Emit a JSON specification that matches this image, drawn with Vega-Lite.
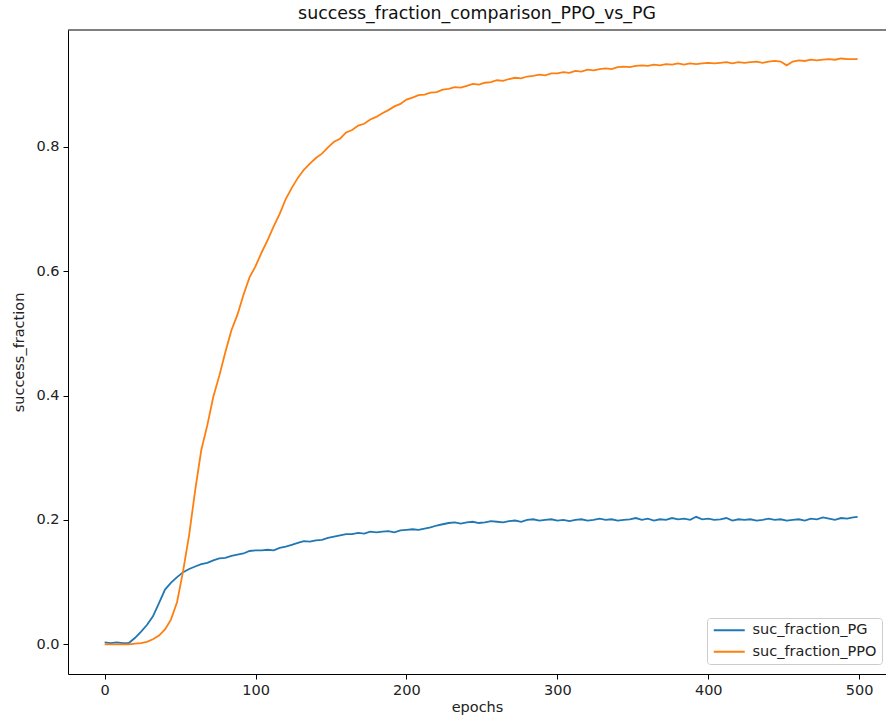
{
  "$schema": "https://vega.github.io/schema/vega-lite/v6.json",
  "width": 818,
  "height": 644,
  "autosize": {"type": "none"},
  "padding": {"left": 68, "top": 30, "right": 0, "bottom": 47},
  "background": "white",
  "title": {
    "text": "success_fraction_comparison_PPO_vs_PG",
    "font": "DejaVu Sans",
    "fontSize": 17.4,
    "fontWeight": "normal",
    "color": "#111",
    "anchor": "middle",
    "baseline": "alphabetic",
    "offset": 9,
    "dy": 16
  },
  "config": {
    "view": {"stroke": null},
    "axis": {
      "grid": false,
      "domainColor": "#000",
      "domainWidth": 1,
      "tickColor": "#000",
      "tickSize": 5,
      "tickWidth": 1,
      "labelFont": "DejaVu Sans",
      "labelFontSize": 14.5,
      "labelColor": "#222",
      "labelPadding": 4,
      "titleFont": "DejaVu Sans",
      "titleFontSize": 14.5,
      "titleFontWeight": "normal",
      "titleColor": "#222"
    }
  },
  "data": {
    "values": [
      {"epoch":0,"suc_fraction_PG":0.003,"suc_fraction_PPO":0.000},
      {"epoch":4,"suc_fraction_PG":0.002,"suc_fraction_PPO":0.000},
      {"epoch":8,"suc_fraction_PG":0.003,"suc_fraction_PPO":0.000},
      {"epoch":12,"suc_fraction_PG":0.002,"suc_fraction_PPO":0.000},
      {"epoch":16,"suc_fraction_PG":0.002,"suc_fraction_PPO":0.000},
      {"epoch":20,"suc_fraction_PG":0.010,"suc_fraction_PPO":0.001},
      {"epoch":24,"suc_fraction_PG":0.020,"suc_fraction_PPO":0.002},
      {"epoch":28,"suc_fraction_PG":0.031,"suc_fraction_PPO":0.004},
      {"epoch":32,"suc_fraction_PG":0.045,"suc_fraction_PPO":0.008},
      {"epoch":36,"suc_fraction_PG":0.066,"suc_fraction_PPO":0.014},
      {"epoch":40,"suc_fraction_PG":0.088,"suc_fraction_PPO":0.024},
      {"epoch":44,"suc_fraction_PG":0.099,"suc_fraction_PPO":0.040},
      {"epoch":48,"suc_fraction_PG":0.108,"suc_fraction_PPO":0.068},
      {"epoch":52,"suc_fraction_PG":0.116,"suc_fraction_PPO":0.118},
      {"epoch":56,"suc_fraction_PG":0.121,"suc_fraction_PPO":0.176},
      {"epoch":60,"suc_fraction_PG":0.125,"suc_fraction_PPO":0.248},
      {"epoch":64,"suc_fraction_PG":0.129,"suc_fraction_PPO":0.312},
      {"epoch":68,"suc_fraction_PG":0.131,"suc_fraction_PPO":0.352},
      {"epoch":72,"suc_fraction_PG":0.135,"suc_fraction_PPO":0.398},
      {"epoch":76,"suc_fraction_PG":0.138,"suc_fraction_PPO":0.432},
      {"epoch":80,"suc_fraction_PG":0.139,"suc_fraction_PPO":0.470},
      {"epoch":84,"suc_fraction_PG":0.142,"suc_fraction_PPO":0.505},
      {"epoch":88,"suc_fraction_PG":0.144,"suc_fraction_PPO":0.530},
      {"epoch":92,"suc_fraction_PG":0.146,"suc_fraction_PPO":0.562},
      {"epoch":96,"suc_fraction_PG":0.150,"suc_fraction_PPO":0.590},
      {"epoch":100,"suc_fraction_PG":0.151,"suc_fraction_PPO":0.608},
      {"epoch":104,"suc_fraction_PG":0.151,"suc_fraction_PPO":0.630},
      {"epoch":108,"suc_fraction_PG":0.152,"suc_fraction_PPO":0.650},
      {"epoch":112,"suc_fraction_PG":0.151,"suc_fraction_PPO":0.672},
      {"epoch":116,"suc_fraction_PG":0.155,"suc_fraction_PPO":0.692},
      {"epoch":120,"suc_fraction_PG":0.157,"suc_fraction_PPO":0.716},
      {"epoch":124,"suc_fraction_PG":0.160,"suc_fraction_PPO":0.734},
      {"epoch":128,"suc_fraction_PG":0.163,"suc_fraction_PPO":0.750},
      {"epoch":132,"suc_fraction_PG":0.166,"suc_fraction_PPO":0.763},
      {"epoch":136,"suc_fraction_PG":0.165,"suc_fraction_PPO":0.773},
      {"epoch":140,"suc_fraction_PG":0.167,"suc_fraction_PPO":0.782},
      {"epoch":144,"suc_fraction_PG":0.168,"suc_fraction_PPO":0.789},
      {"epoch":148,"suc_fraction_PG":0.171,"suc_fraction_PPO":0.799},
      {"epoch":152,"suc_fraction_PG":0.173,"suc_fraction_PPO":0.808},
      {"epoch":156,"suc_fraction_PG":0.175,"suc_fraction_PPO":0.813},
      {"epoch":160,"suc_fraction_PG":0.177,"suc_fraction_PPO":0.823},
      {"epoch":164,"suc_fraction_PG":0.177,"suc_fraction_PPO":0.827},
      {"epoch":168,"suc_fraction_PG":0.179,"suc_fraction_PPO":0.834},
      {"epoch":172,"suc_fraction_PG":0.178,"suc_fraction_PPO":0.837},
      {"epoch":176,"suc_fraction_PG":0.181,"suc_fraction_PPO":0.844},
      {"epoch":180,"suc_fraction_PG":0.180,"suc_fraction_PPO":0.848},
      {"epoch":184,"suc_fraction_PG":0.181,"suc_fraction_PPO":0.854},
      {"epoch":188,"suc_fraction_PG":0.182,"suc_fraction_PPO":0.859},
      {"epoch":192,"suc_fraction_PG":0.180,"suc_fraction_PPO":0.865},
      {"epoch":196,"suc_fraction_PG":0.183,"suc_fraction_PPO":0.869},
      {"epoch":200,"suc_fraction_PG":0.184,"suc_fraction_PPO":0.876},
      {"epoch":204,"suc_fraction_PG":0.185,"suc_fraction_PPO":0.879},
      {"epoch":208,"suc_fraction_PG":0.184,"suc_fraction_PPO":0.883},
      {"epoch":212,"suc_fraction_PG":0.186,"suc_fraction_PPO":0.884},
      {"epoch":216,"suc_fraction_PG":0.188,"suc_fraction_PPO":0.887},
      {"epoch":220,"suc_fraction_PG":0.191,"suc_fraction_PPO":0.888},
      {"epoch":224,"suc_fraction_PG":0.193,"suc_fraction_PPO":0.892},
      {"epoch":228,"suc_fraction_PG":0.195,"suc_fraction_PPO":0.893},
      {"epoch":232,"suc_fraction_PG":0.196,"suc_fraction_PPO":0.896},
      {"epoch":236,"suc_fraction_PG":0.194,"suc_fraction_PPO":0.895},
      {"epoch":240,"suc_fraction_PG":0.196,"suc_fraction_PPO":0.898},
      {"epoch":244,"suc_fraction_PG":0.197,"suc_fraction_PPO":0.901},
      {"epoch":248,"suc_fraction_PG":0.195,"suc_fraction_PPO":0.900},
      {"epoch":252,"suc_fraction_PG":0.196,"suc_fraction_PPO":0.903},
      {"epoch":256,"suc_fraction_PG":0.198,"suc_fraction_PPO":0.904},
      {"epoch":260,"suc_fraction_PG":0.197,"suc_fraction_PPO":0.907},
      {"epoch":264,"suc_fraction_PG":0.196,"suc_fraction_PPO":0.906},
      {"epoch":268,"suc_fraction_PG":0.198,"suc_fraction_PPO":0.909},
      {"epoch":272,"suc_fraction_PG":0.199,"suc_fraction_PPO":0.911},
      {"epoch":276,"suc_fraction_PG":0.197,"suc_fraction_PPO":0.910},
      {"epoch":280,"suc_fraction_PG":0.200,"suc_fraction_PPO":0.913},
      {"epoch":284,"suc_fraction_PG":0.201,"suc_fraction_PPO":0.914},
      {"epoch":288,"suc_fraction_PG":0.199,"suc_fraction_PPO":0.916},
      {"epoch":292,"suc_fraction_PG":0.200,"suc_fraction_PPO":0.915},
      {"epoch":296,"suc_fraction_PG":0.201,"suc_fraction_PPO":0.918},
      {"epoch":300,"suc_fraction_PG":0.199,"suc_fraction_PPO":0.918},
      {"epoch":304,"suc_fraction_PG":0.200,"suc_fraction_PPO":0.920},
      {"epoch":308,"suc_fraction_PG":0.198,"suc_fraction_PPO":0.919},
      {"epoch":312,"suc_fraction_PG":0.200,"suc_fraction_PPO":0.922},
      {"epoch":316,"suc_fraction_PG":0.201,"suc_fraction_PPO":0.921},
      {"epoch":320,"suc_fraction_PG":0.199,"suc_fraction_PPO":0.924},
      {"epoch":324,"suc_fraction_PG":0.200,"suc_fraction_PPO":0.923},
      {"epoch":328,"suc_fraction_PG":0.202,"suc_fraction_PPO":0.925},
      {"epoch":332,"suc_fraction_PG":0.200,"suc_fraction_PPO":0.926},
      {"epoch":336,"suc_fraction_PG":0.201,"suc_fraction_PPO":0.925},
      {"epoch":340,"suc_fraction_PG":0.199,"suc_fraction_PPO":0.928},
      {"epoch":344,"suc_fraction_PG":0.200,"suc_fraction_PPO":0.929},
      {"epoch":348,"suc_fraction_PG":0.201,"suc_fraction_PPO":0.928},
      {"epoch":352,"suc_fraction_PG":0.203,"suc_fraction_PPO":0.930},
      {"epoch":356,"suc_fraction_PG":0.200,"suc_fraction_PPO":0.931},
      {"epoch":360,"suc_fraction_PG":0.202,"suc_fraction_PPO":0.930},
      {"epoch":364,"suc_fraction_PG":0.199,"suc_fraction_PPO":0.932},
      {"epoch":368,"suc_fraction_PG":0.201,"suc_fraction_PPO":0.931},
      {"epoch":372,"suc_fraction_PG":0.200,"suc_fraction_PPO":0.933},
      {"epoch":376,"suc_fraction_PG":0.203,"suc_fraction_PPO":0.932},
      {"epoch":380,"suc_fraction_PG":0.201,"suc_fraction_PPO":0.934},
      {"epoch":384,"suc_fraction_PG":0.202,"suc_fraction_PPO":0.932},
      {"epoch":388,"suc_fraction_PG":0.200,"suc_fraction_PPO":0.934},
      {"epoch":392,"suc_fraction_PG":0.205,"suc_fraction_PPO":0.933},
      {"epoch":396,"suc_fraction_PG":0.201,"suc_fraction_PPO":0.934},
      {"epoch":400,"suc_fraction_PG":0.202,"suc_fraction_PPO":0.935},
      {"epoch":404,"suc_fraction_PG":0.200,"suc_fraction_PPO":0.934},
      {"epoch":408,"suc_fraction_PG":0.201,"suc_fraction_PPO":0.935},
      {"epoch":412,"suc_fraction_PG":0.203,"suc_fraction_PPO":0.936},
      {"epoch":416,"suc_fraction_PG":0.199,"suc_fraction_PPO":0.934},
      {"epoch":420,"suc_fraction_PG":0.201,"suc_fraction_PPO":0.936},
      {"epoch":424,"suc_fraction_PG":0.200,"suc_fraction_PPO":0.935},
      {"epoch":428,"suc_fraction_PG":0.201,"suc_fraction_PPO":0.936},
      {"epoch":432,"suc_fraction_PG":0.199,"suc_fraction_PPO":0.937},
      {"epoch":436,"suc_fraction_PG":0.200,"suc_fraction_PPO":0.935},
      {"epoch":440,"suc_fraction_PG":0.202,"suc_fraction_PPO":0.937},
      {"epoch":444,"suc_fraction_PG":0.200,"suc_fraction_PPO":0.938},
      {"epoch":448,"suc_fraction_PG":0.201,"suc_fraction_PPO":0.937},
      {"epoch":452,"suc_fraction_PG":0.199,"suc_fraction_PPO":0.931},
      {"epoch":456,"suc_fraction_PG":0.200,"suc_fraction_PPO":0.937},
      {"epoch":460,"suc_fraction_PG":0.201,"suc_fraction_PPO":0.939},
      {"epoch":464,"suc_fraction_PG":0.199,"suc_fraction_PPO":0.938},
      {"epoch":468,"suc_fraction_PG":0.202,"suc_fraction_PPO":0.940},
      {"epoch":472,"suc_fraction_PG":0.201,"suc_fraction_PPO":0.939},
      {"epoch":476,"suc_fraction_PG":0.204,"suc_fraction_PPO":0.940},
      {"epoch":480,"suc_fraction_PG":0.202,"suc_fraction_PPO":0.941},
      {"epoch":484,"suc_fraction_PG":0.200,"suc_fraction_PPO":0.940},
      {"epoch":488,"suc_fraction_PG":0.203,"suc_fraction_PPO":0.942},
      {"epoch":492,"suc_fraction_PG":0.202,"suc_fraction_PPO":0.941},
      {"epoch":496,"suc_fraction_PG":0.204,"suc_fraction_PPO":0.941},
      {"epoch":499,"suc_fraction_PG":0.205,"suc_fraction_PPO":0.941}
    ]
  },
  "layer": [
    {
      "transform": [{"fold": ["suc_fraction_PG", "suc_fraction_PPO"], "as": ["series", "value"]}],
      "mark": {"type": "line", "strokeWidth": 1.8, "clip": true},
      "encoding": {
        "x": {
          "field": "epoch",
          "type": "quantitative",
          "scale": {"domain": [-24.3, 517.8], "nice": false, "zero": false},
          "axis": {"values": [0, 100, 200, 300, 400, 500], "title": "epochs", "titlePadding": 4, "labelFlush": false}
        },
        "y": {
          "field": "value",
          "type": "quantitative",
          "scale": {"domain": [-0.0478, 0.9878], "nice": false, "zero": false},
          "axis": {"values": [0, 0.2, 0.4, 0.6, 0.8], "format": ".1f", "title": "success_fraction", "titlePadding": 9, "labelFlush": false}
        },
        "color": {
          "field": "series",
          "type": "nominal",
          "scale": {"domain": ["suc_fraction_PG", "suc_fraction_PPO"], "range": ["#1f77b4", "#ff7f0e"]},
          "legend": {
            "title": null,
            "orient": "none",
            "legendX": 639,
            "legendY": 588,
            "symbolType": "M-4,0H4",
            "symbolSize": 60,
            "symbolOffset": 10,
            "symbolStrokeWidth": 2,
            "labelFont": "DejaVu Sans",
            "labelFontSize": 14.5,
            "labelColor": "#222",
            "labelOffset": 16,
            "rowPadding": 6.5,
            "padding": 5,
            "strokeColor": "#cccccc",
            "fillColor": "white",
            "cornerRadius": 3
          }
        }
      }
    },
    {
      "data": {"values": [{}]},
      "mark": {"type": "rule", "color": "#000", "strokeWidth": 1},
      "encoding": {"y": {"datum": 0.9878}}
    }
  ]
}
